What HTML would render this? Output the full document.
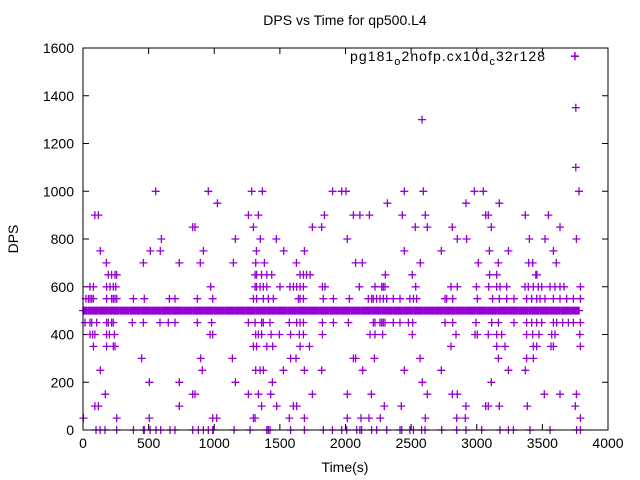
<!DOCTYPE html>
<html><head><meta charset="utf-8"><style>
body{margin:0;background:#fff}
svg{display:block;font-family:"Liberation Sans",sans-serif}
</style></head><body>
<svg id="chart" width="640" height="480" viewBox="0 0 640 480">
<text x="345" y="25" font-size="14" text-anchor="middle">DPS vs Time for qp500.L4</text>
<text x="18" y="239" font-size="14" text-anchor="middle" transform="rotate(-90 18 239)">DPS</text>
<text x="345" y="472" font-size="14" text-anchor="middle">Time(s)</text>
<g id="legend">
<text x="350" y="61" font-size="14" textLength="195">pg181<tspan font-size="11" dy="4">o</tspan><tspan dy="-4">2nofp.cx10d</tspan><tspan font-size="11" dy="4">c</tspan><tspan dy="-4">32r128</tspan></text>
<path d="M571 56h8M575 52v8" stroke="#9400d3" stroke-width="1.3"/>
</g>
<g id="axes"></g>
<g id="points"></g>
<rect x="83" y="48" width="525" height="382" fill="none" stroke="#000" stroke-width="1"/>
</svg>
<script>
const xTicks=[0,500,1000,1500,2000,2500,3000,3500,4000];
const yTicks=[0,200,400,600,800,1000,1200,1400,1600];
const dpsLevels=[1000,950,900,850,800,750,700,650,600,550,450,400,350,300,250,200,150,100,50,0,1300,1565,1350,1100];
const timesByLevel=[
[554,955,1285,1367,1902,1971,2004,2448,2593,2982,3050,3779],
[1024,2319,2918,3172],
[91,117,1260,1336,1839,2060,2110,2182,2433,2608,3068,3088,3370,3546],
[836,853,1298,1748,1819,2532,2623,2814,3111,3634],
[597,1161,1351,1473,2014,2852,2923,3401,3520,3759],
[132,513,589,917,1321,1529,1687,2448,2730,3096,3241,3584],
[178,460,734,894,1146,1316,1382,1626,2077,2128,2570,3012,3164,3396,3426,3606],
[193,218,244,257,1311,1323,1361,1400,1438,1654,1679,1704,1730,2303,2509,3098,3152,3450,3454,3458],
[53,79,180,206,231,249,973,1311,1323,1349,1374,1400,1501,1577,1603,1628,1654,1679,1824,1844,2105,2225,2276,2288,2301,2535,2804,2852,2997,3091,3152,3177,3228,3368,3393,3431,3469,3495,3558,3596,3634,3665,3790],
[23,41,53,66,79,180,218,231,244,257,384,467,658,701,871,988,1298,1323,1374,1412,1450,1641,1654,1679,1831,1908,2029,2174,2199,2212,2237,2263,2288,2314,2364,2415,2491,2517,2542,2758,2771,2817,3004,3121,3172,3228,3284,3380,3419,3457,3482,3520,3584,3634,3685,3736,3790],
[15,53,66,104,180,193,218,231,376,460,587,650,701,871,980,1260,1311,1361,1374,1425,1572,1628,1654,1679,1824,1908,2022,2212,2225,2263,2276,2288,2301,2364,2415,2479,2512,2758,2817,2994,3114,3165,3284,3380,3419,3457,3495,3584,3609,3655,3698,3736,3790],
[53,74,91,180,201,239,968,988,1316,1336,1361,1433,1496,1582,1648,1679,1824,2187,2225,2283,2509,2842,2987,3004,3088,3152,3190,3380,3426,3474,3571,3596,3785],
[79,180,231,244,1298,1323,1400,1445,1654,1725,2804,3152,3215,3431,3457,3566,3584,3790],
[447,897,1138,1582,1623,2060,2077,2220,2568,3165,3380,3431],
[132,909,1316,1349,1374,1527,1687,1819,2131,2448,2730,3241,3370],
[505,734,1161,1443,2585,3111],
[170,836,853,1260,1336,1430,1748,2014,2197,2623,2814,2852,3515,3634,3759],
[91,117,734,1361,1476,1603,1628,2296,2425,2918,3068,3088,3172,3385,3751],
[3,257,505,988,1019,1298,1311,1572,1687,2014,2118,2179,2265,2608,2847,2913,3790],
[99,130,168,257,384,460,467,511,556,592,663,701,836,879,917,955,988,993,1151,1273,1400,1412,1425,1582,1687,1831,1900,1971,2009,2085,2110,2123,2199,2237,2314,2415,2428,2491,2517,2580,2606,2733,2847,2918,3038,3177,3241,3279,3406,3558,3761,3790],
[2583],[3748],[3755],[3755]
];
const steadyDps=500;
const steadyTimes=[0,10,20,30,40,50,60,70,80,90,100,110,120,130,140,150,160,170,180,190,200,210,220,230,240,250,260,270,280,290,300,310,320,330,340,350,360,370,380,390,400,410,420,430,440,450,460,470,480,490,500,510,520,530,540,550,560,570,580,590,600,610,620,630,640,650,660,670,680,690,700,710,720,730,740,750,760,770,780,790,800,810,820,830,840,850,860,870,880,890,900,910,920,930,940,950,960,970,980,990,1000,1010,1020,1030,1040,1050,1060,1070,1080,1090,1100,1110,1120,1130,1140,1150,1160,1170,1180,1190,1200,1210,1220,1230,1240,1250,1260,1270,1280,1290,1300,1310,1320,1330,1340,1350,1360,1370,1380,1390,1400,1410,1420,1430,1440,1450,1460,1470,1480,1490,1500,1510,1520,1530,1540,1550,1560,1570,1580,1590,1600,1610,1620,1630,1640,1650,1660,1670,1680,1690,1700,1710,1720,1730,1740,1750,1760,1770,1780,1790,1800,1810,1820,1830,1840,1850,1860,1870,1880,1890,1900,1910,1920,1930,1940,1950,1960,1970,1980,1990,2000,2010,2020,2030,2040,2050,2060,2070,2080,2090,2100,2110,2120,2130,2140,2150,2160,2170,2180,2190,2200,2210,2220,2230,2240,2250,2260,2270,2280,2290,2300,2310,2320,2330,2340,2350,2360,2370,2380,2390,2400,2410,2420,2430,2440,2450,2460,2470,2480,2490,2500,2510,2520,2530,2540,2550,2560,2570,2580,2590,2600,2610,2620,2630,2640,2650,2660,2670,2680,2690,2700,2710,2720,2730,2740,2750,2760,2770,2780,2790,2800,2810,2820,2830,2840,2850,2860,2870,2880,2890,2900,2910,2920,2930,2940,2950,2960,2970,2980,2990,3000,3010,3020,3030,3040,3050,3060,3070,3080,3090,3100,3110,3120,3130,3140,3150,3160,3170,3180,3190,3200,3210,3220,3230,3240,3250,3260,3270,3280,3290,3300,3310,3320,3330,3340,3350,3360,3370,3380,3390,3400,3410,3420,3430,3440,3450,3460,3470,3480,3490,3500,3510,3520,3530,3540,3550,3560,3570,3580,3590,3600,3610,3620,3630,3640,3650,3660,3670,3680,3690,3700,3710,3720,3730,3740,3750,3760,3770,3780];

const X0=83,X1=608,Y0=430,Y1=48;
function sx(t){return X0+(t-0)/(4000-0)*(X1-X0);}
function sy(v){return Y0-(v-0)/(1600-0)*(Y0-Y1);}
const NS="http://www.w3.org/2000/svg";
const axes=document.getElementById('axes');
let d="";
xTicks.forEach(t=>{
  const x=sx(t);
  d+=`M${x} ${Y0}v-6M${x} ${Y1}v6`;
  const tx=document.createElementNS(NS,'text');
  tx.setAttribute('x',x);tx.setAttribute('y',Y0+18);
  tx.setAttribute('font-size','14');tx.setAttribute('text-anchor','middle');
  tx.textContent=t;
  
  
  axes.appendChild(tx);
});
yTicks.forEach(v=>{
  const y=sy(v);
  d+=`M${X0} ${y}h6M${X1} ${y}h-6`;
  const tx=document.createElementNS(NS,'text');
  tx.setAttribute('x',X0-9);tx.setAttribute('y',y+5);
  tx.setAttribute('font-size','14');tx.setAttribute('text-anchor','end');
  tx.textContent=v;
  
  
  axes.appendChild(tx);
});
const tp=document.createElementNS(NS,'path');
tp.setAttribute('d',d);tp.setAttribute('stroke','#000');tp.setAttribute('fill','none');


axes.appendChild(tp);

let pd="";
function plus(t,v){const x=sx(t),y=sy(v);pd+=`M${(x-4).toFixed(1)} ${y.toFixed(1)}h8M${x.toFixed(1)} ${(y-4).toFixed(1)}v8`;}
steadyTimes.forEach(t=>plus(t,steadyDps));
dpsLevels.forEach((v,i)=>timesByLevel[i].forEach(t=>plus(t,v)));
const pp=document.createElementNS(NS,'path');
pp.setAttribute('d',pd);pp.setAttribute('stroke','#9400d3');pp.setAttribute('stroke-width','1.3');pp.setAttribute('fill','none');


document.getElementById('points').appendChild(pp);
</script>
</body></html>
